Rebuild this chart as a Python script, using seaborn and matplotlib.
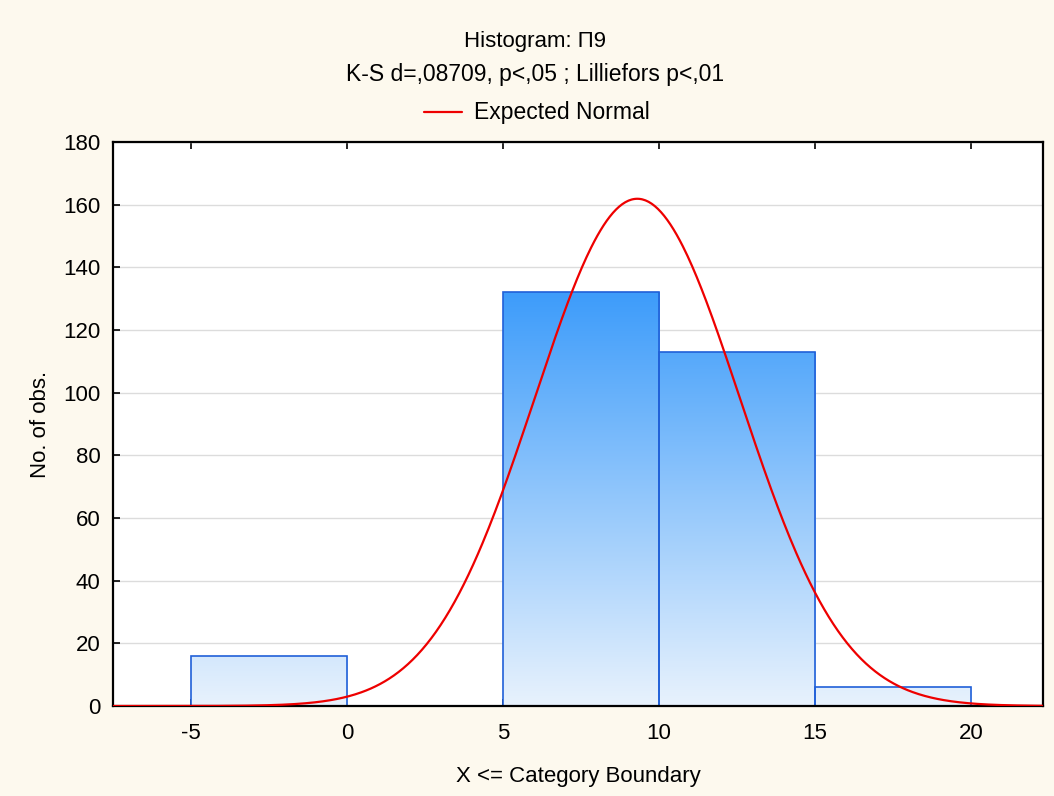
import numpy as np
import pandas as pd
import matplotlib
matplotlib.use("Agg")
import matplotlib.pyplot as plt
from matplotlib.lines import Line2D
from matplotlib.colors import LinearSegmentedColormap
import seaborn as sns

# Data
bin_edges = [-5, 0, 5, 10, 15, 20]
counts = [16, 0, 132, 113, 6]
normal_mean = 9.3
normal_sd = 3.29
x_ticks = [-5, 0, 5, 10, 15, 20]
y_ticks = [0, 20, 40, 60, 80, 100, 120, 140, 160, 180]

title1 = "Histogram: П9"
title2 = "K-S d=,08709, p<,05 ; Lilliefors p<,01"
legend_label = "Expected Normal"
xlabel = "X <= Category Boundary"
ylabel = "No. of obs."

sns.set_theme(style="white")
plt.rcParams['font.family'] = ['Liberation Sans', 'DejaVu Sans']
plt.rcParams['text.color'] = 'black'
plt.rcParams['axes.labelcolor'] = 'black'

fig = plt.figure(figsize=(10.54, 7.96), dpi=100, facecolor="#fdf9ee")
ax = fig.add_axes([113/1054, 1 - 706/796, (1043-113)/1054, (706-142)/796])
ax.set_facecolor("white")

mids = [(bin_edges[i] + bin_edges[i+1]) / 2 for i in range(len(counts))]
df = pd.DataFrame({"x": mids, "w": counts})
sns.histplot(data=df, x="x", weights="w", bins=bin_edges, ax=ax,
             color="#3d9cf5", edgecolor="#2060d8", linewidth=1.2, alpha=1.0)

xlim = (-7.5, 22.3)
ylim = (0, 180)

# gradient fill clipped to bars
cmap = LinearSegmentedColormap.from_list("g", ["#e8f2fd", "#3d9cfa"])
for p in ax.patches:
    h = p.get_height()
    if h <= 0:
        continue
    p.set_facecolor("none")
    x0 = p.get_x(); w = p.get_width()
    top_frac = min(h / 132.0, 1.0)
    g = np.linspace(0, top_frac, 256).reshape(-1, 1)
    im = ax.imshow(g, cmap=cmap, vmin=0, vmax=1, origin="lower", aspect="auto",
                   extent=(x0, x0 + w, 0, h), zorder=p.get_zorder() - 0.1,
                   interpolation="bilinear")
    im.set_clip_path(p)

xs = np.linspace(xlim[0], xlim[1], 600)
n = sum(counts)
binw = bin_edges[1] - bin_edges[0]
ys = n * binw / (normal_sd * np.sqrt(2 * np.pi)) * np.exp(-0.5 * ((xs - normal_mean) / normal_sd) ** 2)
sns.lineplot(x=xs, y=ys, ax=ax, color="#ee0000", linewidth=1.6, zorder=5)

ax.set_xlim(*xlim)
ax.set_ylim(*ylim)
ax.set_xticks(x_ticks)
ax.set_yticks(y_ticks)
ax.set_xticklabels([str(t) for t in x_ticks])
ax.set_yticklabels([str(t) for t in y_ticks])
ax.yaxis.grid(True, color="#dcdcdc", linewidth=1.0)
ax.set_axisbelow(True)
ax.tick_params(axis="both", direction="in", length=5, width=1.2, colors="black",
               labelsize=16, top=True, right=False, left=True, bottom=True)
ax.tick_params(axis="y", pad=9)
ax.tick_params(axis="x", labeltop=False, pad=12)
for s in ax.spines.values():
    s.set_color("black"); s.set_linewidth(1.6); s.set_visible(True)

ax.set_xlabel(xlabel, fontsize=16, labelpad=16)
ax.set_ylabel(ylabel, fontsize=16, labelpad=9)

fig.text(535/1054, 1 - 41/796, title1, ha="center", va="center", fontsize=16)
fig.text(535/1054, 1 - 75/796, title2, ha="center", va="center", fontsize=16.5)
fig.lines.append(Line2D([424/1054, 462/1054], [1 - 112/796, 1 - 112/796],
                        transform=fig.transFigure, color="#ee0000", linewidth=1.6))
fig.text(474/1054, 1 - 112/796, legend_label, ha="left", va="center", fontsize=16.5)

fig.savefig("out.png", dpi=100, facecolor=fig.get_facecolor())
